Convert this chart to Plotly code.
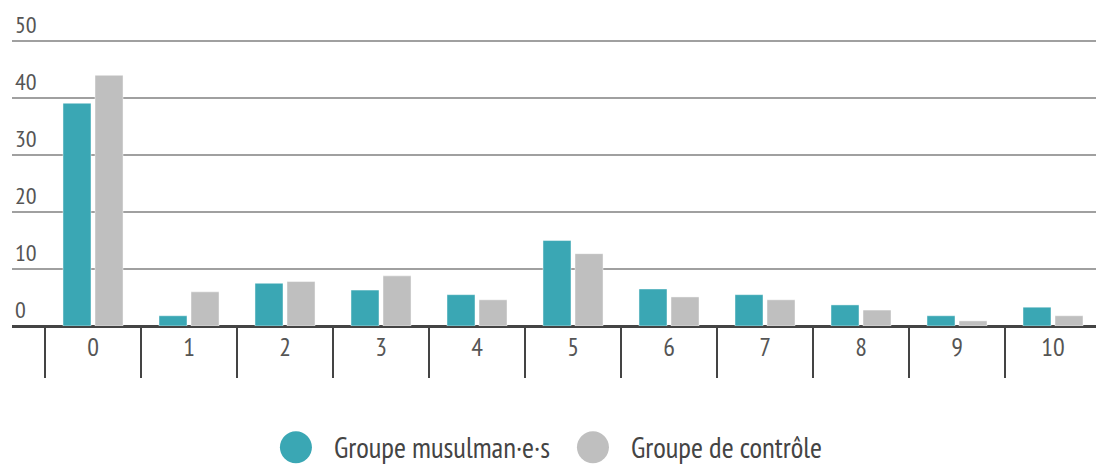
import plotly.graph_objects as go

# données
categories = ["0", "1", "2", "3", "4", "5", "6", "7", "8", "9", "10"]
musulmans = [39.1, 1.8, 7.5, 6.3, 5.5, 15.0, 6.5, 5.5, 3.7, 1.8, 3.3]
controle = [44.0, 6.0, 7.8, 8.8, 4.6, 12.7, 5.1, 4.6, 2.8, 0.9, 1.8]
noms = ["Groupe musulman·e·s", "Groupe de contrôle"]
couleurs = ["#3aa7b4", "#bfbfbf"]
y_ticks = [0, 10, 20, 30, 40, 50]

FONT = "Liberation Sans Narrow, PT Sans Narrow, Roboto, sans-serif"
idx = list(range(len(categories)))
PLOT_H = 286.6  # hauteur de la zone de tracé en px

fig = go.Figure()
for nom, vals, col in zip(noms, [musulmans, controle], couleurs):
    fig.add_trace(go.Bar(
        x=idx, y=vals, name=nom,
        marker=dict(color=col, line=dict(color="rgba(255,255,255,0.45)", width=1)),
        showlegend=False,
    ))

# séparateurs verticaux entre catégories
for i in range(len(categories) + 1):
    fig.add_shape(type="line", xref="x", yref="paper",
                  x0=i - 0.5, x1=i - 0.5, y0=0, y1=-52 / PLOT_H,
                  line=dict(color="#444444", width=2))

# légende faite à la main (cercles)
leg_x = [0.260, 0.532]
leg_y = -121.5 / PLOT_H
for nom, col, lx in zip(noms, couleurs, leg_x):
    fig.add_shape(type="circle", xref="paper", yref="paper",
                  xsizemode="pixel", ysizemode="pixel",
                  xanchor=lx, yanchor=leg_y,
                  x0=-16, x1=16, y0=-16, y1=16,
                  fillcolor=col, line=dict(width=0))
    fig.add_annotation(x=lx, y=leg_y, xref="paper", yref="paper",
                       xshift=36, text=nom, showarrow=False,
                       xanchor="left", yanchor="middle",
                       font=dict(family=FONT, size=29, color="#444444"))

fig.update_layout(
    width=1096, height=458,
    margin=dict(l=4, r=0, t=31.9, b=139.5),
    plot_bgcolor="white", paper_bgcolor="white",
    barmode="group", bargap=0.333, bargroupgap=0.125,
    showlegend=False,
    font=dict(family=FONT, color="#555555"),
)
fig.update_xaxes(
    range=[-0.84375, 10.53125],
    tickmode="array", tickvals=idx, ticktext=categories,
    tickfont=dict(size=26, color="#555555"),
    ticks="", showgrid=False, zeroline=False, showline=False,
    ticklabelstandoff=3,
)
fig.update_yaxes(
    range=[0, 50.2],
    tickmode="array", tickvals=y_ticks,
    ticklabelposition="inside top", ticklabeloverflow="allow",
    tickfont=dict(size=24, color="#555555"),
    showgrid=True, gridcolor="#a0a0a0", gridwidth=2,
    zeroline=True, zerolinecolor="#444444", zerolinewidth=3,
    showline=False, ticks="",
)

fig.write_html("out.html")
